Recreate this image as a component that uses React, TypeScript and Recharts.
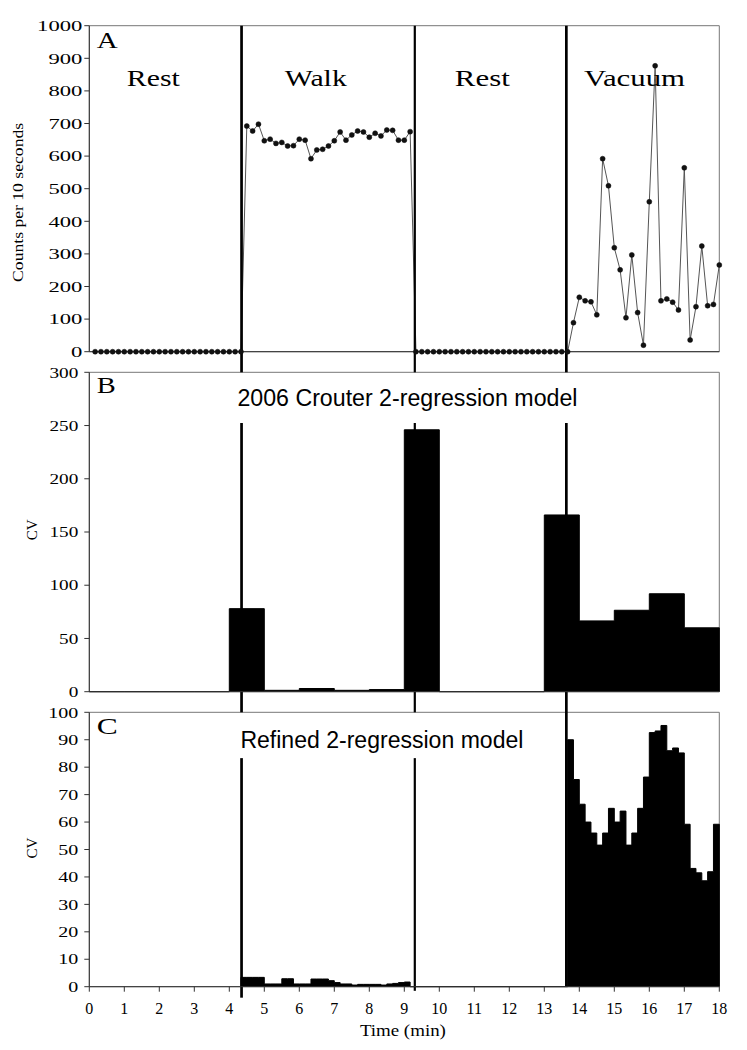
import React from 'react';
import {
  ComposedChart,
  Line,
  Area,
  XAxis,
  YAxis,
  ReferenceLine,
  ReferenceArea,
  ReferenceDot,
} from 'recharts';

// Panel A: accelerometer counts per 10-s epoch (epoch k ends at k/6 min)
const restCounts1 = [0, 0, 0, 0, 0, 0, 0, 0, 0, 0, 0, 0, 0, 0, 0, 0, 0, 0, 0, 0, 0, 0, 0, 0, 0, 0];
const walkCounts = [
  692, 677, 698, 647, 652, 639, 642, 631, 632, 652, 649, 592, 619, 621, 631,
  647, 674, 649, 665, 677, 674, 658, 670, 662, 680, 679, 649, 649, 675,
];
const restCounts2 = [0, 0, 0, 0, 0, 0, 0, 0, 0, 0, 0, 0, 0, 0, 0, 0, 0, 0, 0, 0, 0, 0, 0, 0, 0, 0, 0];
const vacuumCounts = [
  89, 167, 156, 153, 113, 592, 509, 319, 251, 104, 297, 120, 20, 460, 877,
  156, 162, 152, 128, 564, 36, 138, 324, 141, 145, 266,
];

// Panel B: 2006 Crouter model, CV per whole minute (minutes 0-17)
const crouterCV = [0, 0, 0, 0, 78, 1.3, 3, 1.3, 2, 246, 0, 0, 0, 166, 66.5, 76.5, 92, 60];

// Panel C: refined model, CV per 10-s epoch
const refinedWalkCV = [
  3.4, 3.4, 3.4, 3.4, 1, 1, 1, 2.9, 2.9, 1, 1, 1, 2.8, 2.8, 2.8, 2.2, 1.5,
  1, 1, 0.6, 0.85, 0.85, 0.85, 0.85, 0.6, 1, 1.2, 1.5, 1.7,
];
const refinedVacuumCV = [
  90, 75.5, 66.5, 60, 56, 51.6, 56, 65, 60, 64, 51.6, 56, 65, 76.4, 92.6,
  93.2, 95.2, 86, 87, 85.2, 59.2, 43.1, 41.5, 38.6, 41.9, 59.2,
];
const walkFirstEpoch = 27;
const vacuumFirstEpoch = 83;

const phaseNames = ['Rest', 'Walk', 'Rest', 'Vacuum'];
const phaseLabelAt = [1.83, 6.47, 11.23, 15.58];
const phaseChanges = [4.35, 9.3, 13.63];

const minuteTicks = [0, 1, 2, 3, 4, 5, 6, 7, 8, 9, 10, 11, 12, 13, 14, 15, 16, 17, 18];
const countTicks = [0, 100, 200, 300, 400, 500, 600, 700, 800, 900, 1000];
const crouterTicks = [0, 50, 100, 150, 200, 250, 300];
const refinedTicks = [0, 10, 20, 30, 40, 50, 60, 70, 80, 90, 100];

const W = 747;
const SERIF = '"Liberation Serif", "Times New Roman", serif';
const SANS = '"Liberation Sans", Arial, sans-serif';
const AXIS = '#333';
const FRAME = '#777';
const phaseLineWidths = [2.7, 2.2, 2.7];
const phaseLabelWidths = [53, 62, 55, 101];

const countData = [...restCounts1, ...walkCounts, ...restCounts2, ...vacuumCounts].map((counts, i) => ({
  t: (i + 1) / 6,
  counts,
}));

type Bin = { start: number; width: number; values: number[] };
function stepOutline(bins: Bin[]) {
  const pts: { t: number; cv: number }[] = [];
  bins.forEach(({ start, width, values }) => {
    pts.push({ t: start, cv: 0 });
    values.forEach((v, i) => {
      pts.push({ t: start + i * width, cv: v });
      pts.push({ t: start + (i + 1) * width, cv: v });
    });
    pts.push({ t: start + values.length * width, cv: 0 });
  });
  return pts;
}

const crouterData = stepOutline([{ start: 0, width: 1, values: crouterCV }]);
const refinedData = stepOutline([
  { start: (walkFirstEpoch - 1) / 6, width: 1 / 6, values: refinedWalkCV },
  { start: (vacuumFirstEpoch - 1) / 6, width: 1 / 6, values: refinedVacuumCV },
]);

function StretchText({ viewBox, text, length, size, family, anchor = 'middle', rotate = false }: any) {
  if (!viewBox) return null;
  const x = viewBox.x + (viewBox.width || 0) / 2;
  const y = viewBox.y + (viewBox.height || 0) / 2;
  return (
    <text
      x={x}
      y={y}
      textAnchor={anchor}
      fontSize={size}
      fontFamily={family}
      fill="#000"
      textLength={length}
      lengthAdjust={length ? 'spacingAndGlyphs' : undefined}
      dominantBaseline={rotate ? 'central' : undefined}
      transform={rotate ? `rotate(-90 ${x} ${y})` : undefined}
    >
      {text}
    </text>
  );
}

const textLabel = (opts: any) => ({
  content: (p: any) => <StretchText viewBox={p.viewBox} {...opts} />,
});

function YTick({ x, y, payload, per }: any) {
  const s = String(payload.value);
  return (
    <text
      x={x}
      y={y}
      dy="0.36em"
      textAnchor="end"
      fontSize={14.5}
      fontFamily={SERIF}
      fill="#000"
      textLength={s.length * per}
      lengthAdjust="spacingAndGlyphs"
    >
      {s}
    </text>
  );
}

function TextAt({ x, y, ...opts }: any) {
  return <ReferenceDot x={x} y={y} r={0} fill="none" stroke="none" ifOverflow="visible" label={textLabel(opts)} />;
}

function frame(top: number) {
  return <ReferenceArea x1={0} x2={18} y1={0} y2={top} fill="none" stroke={FRAME} strokeWidth={1} ifOverflow="visible" />;
}

function CountsPanel() {
  return (
    <ComposedChart width={W} height={362} data={countData} margin={{ top: 25.7, right: 27.7, bottom: 0.3, left: 0 }}>
      {frame(1000)}
      <XAxis
        type="number"
        dataKey="t"
        domain={[0, 18]}
        ticks={minuteTicks}
        interval={0}
        tick={false}
        tickSize={5}
        height={10}
        axisLine={{ stroke: AXIS }}
        tickLine={{ stroke: AXIS }}
      />
      <YAxis
        type="number"
        domain={[0, 1000]}
        ticks={countTicks}
        interval={0}
        width={89.3}
        tickSize={5}
        tickMargin={2}
        axisLine={{ stroke: AXIS }}
        tickLine={{ stroke: AXIS }}
        tick={(p: any) => <YTick {...p} per={11.3} />}
      />
      <Line
        type="linear"
        dataKey="counts"
        stroke="#555"
        strokeWidth={1}
        dot={{ r: 2.5, fill: '#111', stroke: '#111', strokeWidth: 0.5 }}
        activeDot={false}
        isAnimationActive={false}
      />
      {phaseChanges.map((x, i) => (
        <ReferenceLine
          key={x}
          segment={[{ x, y: -32 }, { x, y: 1000 }]}
          stroke="#000"
          strokeWidth={phaseLineWidths[i]}
          ifOverflow="visible"
        />
      ))}
      {phaseNames.map((name, i) => (
        <TextAt key={i} x={phaseLabelAt[i]} y={815} text={name} length={phaseLabelWidths[i]} size={23} family={SERIF} />
      ))}
      <TextAt x={0.21} y={932} text="A" length={21} size={24} family={SERIF} anchor="start" />
      <TextAt x={-2.01} y={458} text="Counts per 10 seconds" length={159} size={14} family={SERIF} rotate />
    </ComposedChart>
  );
}

function CrouterPanel() {
  return (
    <ComposedChart width={W} height={340} data={crouterData} margin={{ top: 10.3, right: 27.7, bottom: 0.3, left: 0 }}>
      {frame(300)}
      <XAxis
        type="number"
        dataKey="t"
        domain={[0, 18]}
        ticks={minuteTicks}
        interval={0}
        tick={false}
        tickSize={5}
        height={10}
        axisLine={{ stroke: AXIS }}
        tickLine={{ stroke: AXIS }}
      />
      <YAxis
        type="number"
        domain={[0, 300]}
        ticks={crouterTicks}
        interval={0}
        width={89.3}
        tickSize={5}
        tickMargin={6}
        axisLine={{ stroke: AXIS }}
        tickLine={{ stroke: AXIS }}
        tick={(p: any) => <YTick {...p} per={9.6} />}
      />
      <Area
        type="linear"
        dataKey="cv"
        stroke="#000"
        strokeWidth={1}
        fill="#000"
        fillOpacity={1}
        activeDot={false}
        isAnimationActive={false}
      />
      {phaseChanges.map((x, i) => (
        <React.Fragment key={x}>
          <ReferenceLine segment={[{ x, y: 310 }, { x, y: 300 }]} stroke="#000" strokeWidth={phaseLineWidths[i]} ifOverflow="visible" />
          <ReferenceLine segment={[{ x, y: 252.4 }, { x, y: -10 }]} stroke="#000" strokeWidth={phaseLineWidths[i]} ifOverflow="visible" />
        </React.Fragment>
      ))}
      <TextAt x={9.09} y={268.3} text="2006 Crouter 2-regression model" length={340} size={23} family={SANS} />
      <TextAt x={0.21} y={280.5} text="B" length={19} size={24} family={SERIF} anchor="start" />
      <TextAt x={-1.64} y={152} text="CV" size={15} family={SERIF} rotate />
    </ComposedChart>
  );
}

function RefinedPanel() {
  const bottomEnds = [-4, -1.5, 0];
  return (
    <ComposedChart width={W} height={348} data={refinedData} margin={{ top: 10.3, right: 27.7, bottom: 13.3, left: 0 }}>
      {frame(100)}
      <XAxis
        type="number"
        dataKey="t"
        domain={[0, 18]}
        ticks={minuteTicks}
        interval={0}
        tickSize={5}
        tickMargin={11}
        height={50}
        axisLine={{ stroke: AXIS }}
        tickLine={{ stroke: AXIS }}
        tick={{ fontSize: 16, fontFamily: SERIF, fill: '#000' }}
      />
      <YAxis
        type="number"
        domain={[0, 100]}
        ticks={refinedTicks}
        interval={0}
        width={89.3}
        tickSize={5}
        tickMargin={6}
        axisLine={{ stroke: AXIS }}
        tickLine={{ stroke: AXIS }}
        tick={(p: any) => <YTick {...p} per={10} />}
      />
      <Area
        type="linear"
        dataKey="cv"
        stroke="#000"
        strokeWidth={1}
        fill="#000"
        fillOpacity={1}
        activeDot={false}
        isAnimationActive={false}
      />
      {phaseChanges.map((x, i) =>
        i < 2 ? (
          <React.Fragment key={x}>
            <ReferenceLine segment={[{ x, y: 104 }, { x, y: 100 }]} stroke="#000" strokeWidth={phaseLineWidths[i]} ifOverflow="visible" />
            <ReferenceLine segment={[{ x, y: 83.3 }, { x, y: bottomEnds[i] }]} stroke="#000" strokeWidth={phaseLineWidths[i]} ifOverflow="visible" />
          </React.Fragment>
        ) : (
          <ReferenceLine key={x} segment={[{ x, y: 104 }, { x, y: bottomEnds[i] }]} stroke="#000" strokeWidth={phaseLineWidths[i]} ifOverflow="visible" />
        ),
      )}
      <TextAt x={8.36} y={86.9} text="Refined 2-regression model" length={283} size={23} family={SANS} />
      <TextAt x={0.21} y={92.1} text="C" length={21} size={24} family={SERIF} anchor="start" />
      <TextAt x={-1.64} y={50.5} text="CV" size={15} family={SERIF} rotate />
      <TextAt x={8.96} y={-18} text="Time (min)" length={86} size={17} family={SERIF} />
    </ComposedChart>
  );
}

export default function App() {
  return (
    <div style={{ position: 'absolute', left: 0, top: 0, width: W, height: 1050, background: '#fff' }}>
      <CountsPanel />
      <CrouterPanel />
      <RefinedPanel />
    </div>
  );
}
